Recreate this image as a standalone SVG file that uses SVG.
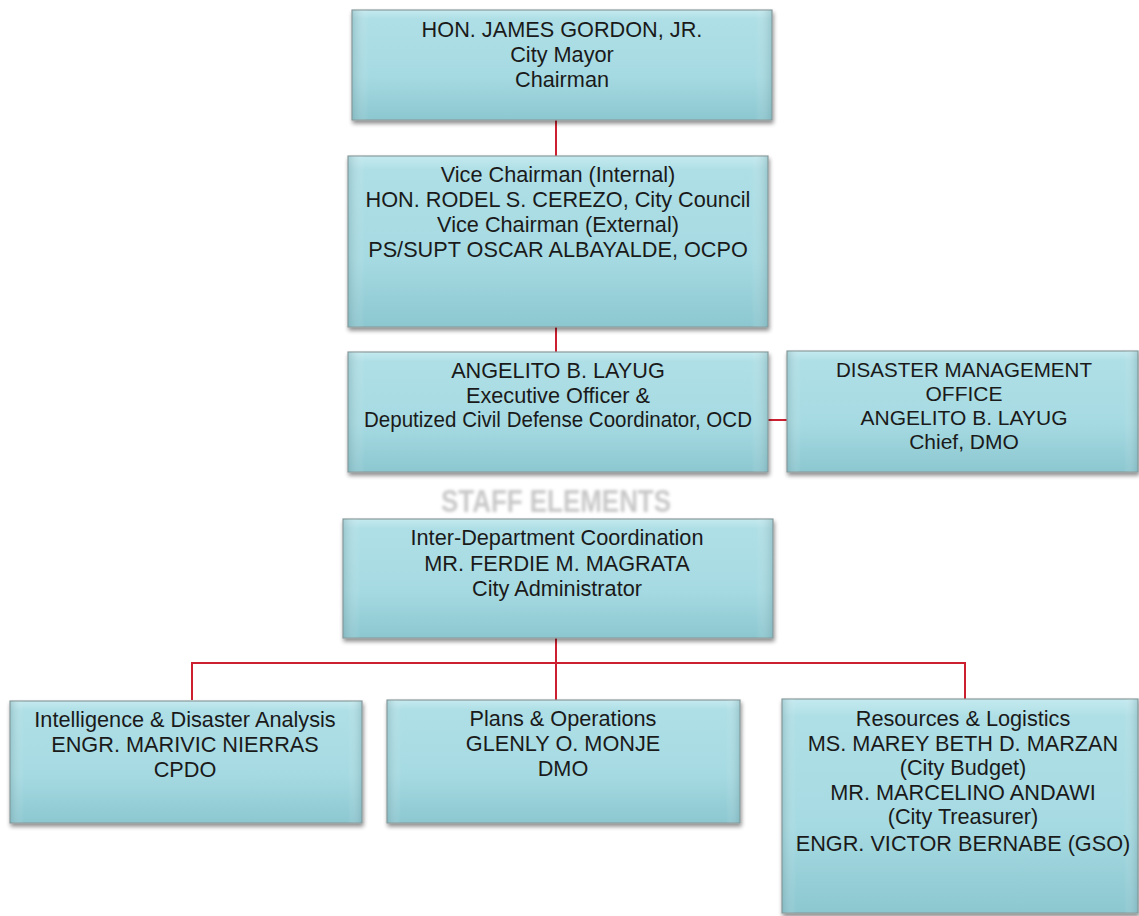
<svg xmlns="http://www.w3.org/2000/svg" width="1139" height="916" viewBox="0 0 1139 916">
  <defs>
    <linearGradient id="glass" x1="0" y1="0" x2="0" y2="1">
      <stop offset="0" stop-color="#c4eaef"/>
      <stop offset="0.08" stop-color="#afdfe6"/>
      <stop offset="0.6" stop-color="#a6dae2"/>
      <stop offset="1" stop-color="#8cc7d0"/>
    </linearGradient>
    <linearGradient id="edge" x1="0" y1="0" x2="1" y2="0">
      <stop offset="0" stop-color="#6f9aa0" stop-opacity="0.35"/>
      <stop offset="0.04" stop-color="#ffffff" stop-opacity="0"/>
      <stop offset="0.96" stop-color="#ffffff" stop-opacity="0"/>
      <stop offset="1" stop-color="#6f9aa0" stop-opacity="0.35"/>
    </linearGradient>
    <filter id="shadow" x="-5%" y="-10%" width="112%" height="125%">
      <feGaussianBlur in="SourceAlpha" stdDeviation="2"/>
      <feOffset dx="1" dy="3" result="b"/>
      <feComponentTransfer><feFuncA type="linear" slope="0.45"/></feComponentTransfer>
      <feMerge><feMergeNode/><feMergeNode in="SourceGraphic"/></feMerge>
    </filter>
    <filter id="soft" x="-10%" y="-30%" width="120%" height="160%">
      <feGaussianBlur stdDeviation="1.5"/>
    </filter>
  </defs>
  <style>
    .box { fill: url(#glass); stroke: #8a9a9c; stroke-width: 1.2; filter: url(#shadow); }
    .sheen { fill: url(#edge); }
    .lbl { font-family: "Liberation Sans", Arial, sans-serif; font-size: 21.7px; fill: #1a1a1a; text-anchor: middle; }
    .narrow { font-size: 21px; }
    .link { stroke: #cc2030; stroke-width: 2; fill: none; }
    .caption { font-family: "Liberation Sans", Arial, sans-serif; font-size: 32px; font-weight: bold; fill: #c8c8c8; text-anchor: middle; filter: url(#soft); }
  </style>

  <rect width="1139" height="916" fill="#ffffff"/>

  <g id="connectors">
    <line class="link" x1="556" y1="120" x2="556" y2="156"/>
    <line class="link" x1="556" y1="327" x2="556" y2="352"/>
    <line class="link" x1="768" y1="420" x2="787" y2="420"/>
    <line class="link" x1="556" y1="638" x2="556" y2="700"/>
    <path class="link" d="M192 700 V663 H965 V699"/>
  </g>

  <g id="mayor">
    <rect class="box" x="352" y="10" width="420" height="110"/>
    <rect class="sheen" x="352" y="10" width="420" height="110"/>
    <text class="lbl" x="562" y="37">HON. JAMES GORDON, JR.</text>
    <text class="lbl" x="562" y="62">City Mayor</text>
    <text class="lbl" x="562" y="87">Chairman</text>
  </g>

  <g id="vice-chairmen">
    <rect class="box" x="348" y="156" width="420" height="171"/>
    <rect class="sheen" x="348" y="156" width="420" height="171"/>
    <text class="lbl" x="558" y="182">Vice Chairman (Internal)</text>
    <text class="lbl" x="558" y="207">HON. RODEL S. CEREZO, City Council</text>
    <text class="lbl" x="558" y="232">Vice Chairman (External)</text>
    <text class="lbl" x="558" y="257">PS/SUPT OSCAR ALBAYALDE, OCPO</text>
  </g>

  <g id="executive-officer">
    <rect class="box" x="348" y="352" width="420" height="120"/>
    <rect class="sheen" x="348" y="352" width="420" height="120"/>
    <text class="lbl" x="558" y="378">ANGELITO B. LAYUG</text>
    <text class="lbl" x="558" y="403">Executive Officer &amp;</text>
    <text class="lbl" x="558" y="427" textLength="388" lengthAdjust="spacingAndGlyphs">Deputized Civil Defense Coordinator, OCD</text>
  </g>

  <g id="dmo">
    <rect class="box" x="787" y="351" width="351" height="121"/>
    <rect class="sheen" x="787" y="351" width="351" height="121"/>
    <text class="lbl narrow" x="964" y="377" textLength="256" lengthAdjust="spacingAndGlyphs">DISASTER MANAGEMENT</text>
    <text class="lbl narrow" x="964" y="401">OFFICE</text>
    <text class="lbl narrow" x="964" y="425">ANGELITO B. LAYUG</text>
    <text class="lbl narrow" x="964" y="449">Chief, DMO</text>
  </g>

  <text class="caption" x="556" y="512" textLength="230" lengthAdjust="spacingAndGlyphs">STAFF ELEMENTS</text>

  <g id="inter-department">
    <rect class="box" x="343" y="519" width="430" height="119"/>
    <rect class="sheen" x="343" y="519" width="430" height="119"/>
    <text class="lbl" x="557" y="545">Inter-Department Coordination</text>
    <text class="lbl" x="557" y="571">MR. FERDIE M. MAGRATA</text>
    <text class="lbl" x="557" y="596">City Administrator</text>
  </g>

  <g id="intelligence">
    <rect class="box" x="10" y="701" width="352" height="122"/>
    <rect class="sheen" x="10" y="701" width="352" height="122"/>
    <text class="lbl" x="185" y="727">Intelligence &amp; Disaster Analysis</text>
    <text class="lbl" x="185" y="752">ENGR. MARIVIC NIERRAS</text>
    <text class="lbl" x="185" y="777">CPDO</text>
  </g>

  <g id="plans-operations">
    <rect class="box" x="387" y="700" width="353" height="123"/>
    <rect class="sheen" x="387" y="700" width="353" height="123"/>
    <text class="lbl" x="563" y="726">Plans &amp; Operations</text>
    <text class="lbl" x="563" y="751">GLENLY O. MONJE</text>
    <text class="lbl" x="563" y="776">DMO</text>
  </g>

  <g id="resources-logistics">
    <rect class="box" x="782" y="699" width="356" height="214"/>
    <rect class="sheen" x="782" y="699" width="356" height="214"/>
    <text class="lbl" x="963" y="726">Resources &amp; Logistics</text>
    <text class="lbl" x="963" y="751">MS. MAREY BETH D. MARZAN</text>
    <text class="lbl" x="963" y="775">(City Budget)</text>
    <text class="lbl" x="963" y="800">MR. MARCELINO ANDAWI</text>
    <text class="lbl" x="963" y="824">(City Treasurer)</text>
    <text class="lbl" x="963" y="851">ENGR. VICTOR BERNABE (GSO)</text>
  </g>
</svg>
